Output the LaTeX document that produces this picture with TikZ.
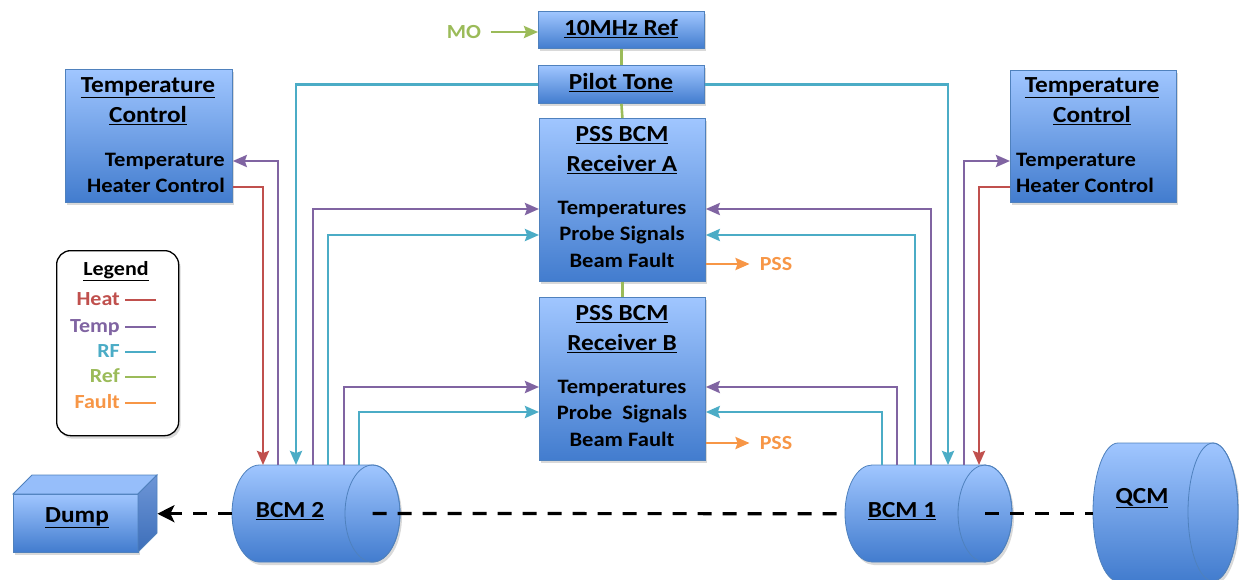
\documentclass[tikz,border=0pt]{standalone}
\usepackage{fontspec}
\setmainfont{Carlito}[FakeStretch=1.1]
\usetikzlibrary{arrows.meta,shadows,calc}
\definecolor{heatc}{RGB}{192,80,77}
\definecolor{tempc}{RGB}{128,100,162}
\definecolor{rfc}{RGB}{75,172,198}
\definecolor{refc}{RGB}{155,187,89}
\definecolor{faultc}{RGB}{247,150,70}
\definecolor{boxtop}{RGB}{160,198,255}
\definecolor{boxbot}{RGB}{66,124,206}
\definecolor{boxline}{RGB}{79,129,189}
\begin{document}
\begin{tikzpicture}[x=1pt,y=-1pt,
  shad/.style={drop shadow={shadow xshift=2pt,shadow yshift=-3pt,opacity=0.3}},
  box/.style={draw=boxline,line width=0.8pt,top color=boxtop,bottom color=boxbot,shad,inner sep=0pt,anchor=north west},
  cyl/.style={draw=boxline,line width=0.8pt,top color=boxtop,bottom color=boxbot,shad},
  cylend/.style={draw=boxline,line width=0.8pt},
  holder/.style={inner sep=0pt,anchor=north west},
  ttl/.style={font=\bfseries\fontsize{23}{30}\selectfont,align=center,inner sep=1pt},
  bdy/.style={font=\bfseries\fontsize{20.5}{26.5}\selectfont,inner sep=1pt},
  lab/.style={font=\bfseries\fontsize{20}{23}\selectfont,inner sep=1pt},
  leg/.style={lab,anchor=east,text height=0.68em,text depth=0.2em},
  conn/.style={line width=2.6pt,-{Stealth[length=14pt,width=12pt,inset=2pt]}},
  plain/.style={line width=2.6pt},
  heat/.style={conn,draw=heatc},
  temp/.style={conn,draw=tempc},
  rf/.style={conn,draw=rfc},
  reflink/.style={plain,draw=refc},
  dashline/.style={line width=3.2pt,black,dash pattern=on 14pt off 11pt},
]
\useasboundingbox (0,0) rectangle (1239,579);

% ---- boxes ----
\node[box,minimum width=166pt,minimum height=37pt] (ref) at (538,11) {};
\node[box,minimum width=166pt,minimum height=38pt] (pilot) at (538,65) {};
\node[box,minimum width=166pt,minimum height=163pt] (recA) at (539,118) {};
\node[box,minimum width=166pt,minimum height=163pt] (recB) at (539,297) {};
\node[box,minimum width=167pt,minimum height=133pt] (tcl) at (65,69) {};
\node[box,minimum width=166pt,minimum height=132pt] (tcr) at (1010,70) {};

\node[ttl] (refT) at (621,29) {\underline{10MHz Ref}};
\node[ttl] (pilotT) at (621,83) {\underline{Pilot Tone}};
\node[ttl] (recAT) at (622,150) {\underline{PSS BCM}\\\underline{Receiver A}};
\node[bdy,align=center] (recAB) at (622,234) {Temperatures\\Probe Signals\\Beam Fault};
\node[ttl] (recBT) at (622,329) {\underline{PSS BCM}\\\underline{Receiver B}};
\node[bdy,align=center] (recBB) at (622,413) {Temperatures\\Probe\ \ Signals\\Beam Fault};
\node[ttl] (tclT) at (148,101) {\underline{Temperature}\\\underline{Control}};
\node[bdy,align=right,anchor=east] (tclB) at (226,173) {Temperature\\Heater Control};
\node[ttl] (tcrT) at (1092,101) {\underline{Temperature}\\\underline{Control}};
\node[bdy,align=left,anchor=west] (tcrB) at (1015,173) {Temperature\\Heater Control};

% ---- legend ----
\node[draw,rounded corners=14pt,line width=1.3pt,fill=white,minimum width=122pt,minimum height=185pt,anchor=north west,shad] (legend) at (56,250) {};
\node[lab] (legT) at (116,271) {\underline{Legend}};
\node[leg,text=heatc] (lheat) at (121,303) {Heat};
\node[leg,text=tempc] (ltemp) at (121,330) {Temp};
\node[leg,text=rfc] (lrf) at (121,355) {RF};
\node[leg,text=refc] (lref) at (121,380) {Ref};
\node[leg,text=faultc] (lfault) at (121,406) {Fault};
\draw[plain,heatc] ([xshift=4pt,yshift=3pt]lheat.east) -- ++(31,0);
\draw[plain,tempc] ([xshift=4pt,yshift=3pt]ltemp.east) -- ++(31,0);
\draw[plain,rfc] ([xshift=4pt,yshift=3pt]lrf.east) -- ++(31,0);
\draw[plain,refc] ([xshift=4pt,yshift=3pt]lref.east) -- ++(31,0);
\draw[plain,faultc] ([xshift=4pt,yshift=3pt]lfault.east) -- ++(31,0);

% ---- dump ----
\path[draw=boxline,line width=0.8pt,top color=boxtop,bottom color=boxbot,shad] (13,494) rectangle (138,552);
\path[draw=boxline,line width=0.8pt,fill={rgb,255:red,150;green,190;blue,250}] (13,494) -- (32,475) -- (157,475) -- (138,494) -- cycle;
\path[draw=boxline,line width=0.8pt,top color={rgb,255:red,110;green,150;blue,215},bottom color={rgb,255:red,60;green,110;blue,185}] (138,494) -- (157,475) -- (157,533) -- (138,552) -- cycle;
\node[holder,minimum width=144pt,minimum height=77pt] (dump) at (13,475) {};
\node[ttl] (dumpT) at (77,518) {\underline{Dump}};

% ---- cylinders ----
\path[cyl] (372.5,465) -- (259.5,465) arc[start angle=270,end angle=90,x radius=27.5,y radius=48.5] -- (372.5,562) arc[start angle=90,end angle=-90,x radius=27.5,y radius=48.5] -- cycle;
\draw[cylend] (372.5,513.5) ellipse [x radius=27.5,y radius=48.5];
\node[holder,minimum width=168pt,minimum height=97pt] (bcm2) at (232,465) {};
\coordinate (bcm2end) at (372.5,513.5);
\node[ttl] (bcm2T) at (290,511) {\underline{BCM 2}};

\path[cyl] (985,465) -- (872,465) arc[start angle=270,end angle=90,x radius=27,y radius=48.5] -- (985,562) arc[start angle=90,end angle=-90,x radius=27,y radius=48.5] -- cycle;
\draw[cylend] (985,513.5) ellipse [x radius=27,y radius=48.5];
\node[holder,minimum width=167pt,minimum height=97pt] (bcm1) at (845,465) {};
\coordinate (bcm1end) at (985,513.5);
\node[ttl] (bcm1T) at (902,511) {\underline{BCM 1}};

\path[cyl] (1213,443) -- (1118,443) arc[start angle=270,end angle=90,x radius=25,y radius=69] -- (1213,581) arc[start angle=90,end angle=-90,x radius=25,y radius=69] -- cycle;
\draw[cylend] (1213,512) ellipse [x radius=25,y radius=69];
\node[holder,minimum width=145pt,minimum height=138pt] (qcm) at (1093,443) {};
\node[ttl] (qcmT) at (1142,498) {\underline{QCM}};

% ---- reference chain ----
\node[lab,text=refc] (mo) at (464,32) {MO};
\draw[conn,draw=refc,shorten <=9pt] (mo.east) -- (mo.east -| ref.west);
\draw[reflink] (ref.south) -- (pilot.north);
\draw[reflink] (pilot.south) -- (recA.north);
\draw[reflink] (recA.south) -- (recB.north);

% ---- fault ----
\node[lab,text=faultc] (pssA) at (776,264) {PSS};
\node[lab,text=faultc] (pssB) at (776,443) {PSS};
\draw[conn,draw=faultc,shorten >=9pt] (recA.east |- pssA.west) -- (pssA.west);
\draw[conn,draw=faultc,shorten >=9pt] (recB.east |- pssB.west) -- (pssB.west);

% ---- left side ----
\draw[heat] (tcl.east |- 0,187) -| (263,0 |- bcm2.north);
\draw[temp] (278,0 |- bcm2.north) |- (tcl.east |- 0,161);
\draw[rf] (pilot.west) -| (296,0 |- bcm2.north);
\draw[temp] (313,0 |- bcm2.north) |- (recA.west |- 0,209);
\draw[rf] (328,0 |- bcm2.north) |- (recA.west |- 0,235);
\draw[temp] (344,0 |- bcm2.north) |- (recB.west |- 0,387);
\draw[rf] (359,0 |- bcm2.north) |- (recB.west |- 0,412);

% ---- right side ----
\draw[rf] (882,0 |- bcm1.north) |- (recB.east |- 0,412);
\draw[temp] (897,0 |- bcm1.north) |- (recB.east |- 0,387);
\draw[rf] (915,0 |- bcm1.north) |- (recA.east |- 0,235);
\draw[temp] (931,0 |- bcm1.north) |- (recA.east |- 0,209);
\draw[rf] (pilot.east) -| (948,0 |- bcm1.north);
\draw[temp] (964,0 |- bcm1.north) |- (tcr.west |- 0,161);
\draw[heat] (tcr.west |- 0,187) -| (979,0 |- bcm1.north);

% ---- beam line ----
\draw[dashline,-{Stealth[length=17pt,width=17pt,inset=4pt]}] (bcm2.west) -- (dump.east);
\draw[dashline] (bcm2end) -- (bcm1.west);
\draw[dashline] (bcm1end) -- (qcm.west |- bcm1end);
\end{tikzpicture}
\end{document}
